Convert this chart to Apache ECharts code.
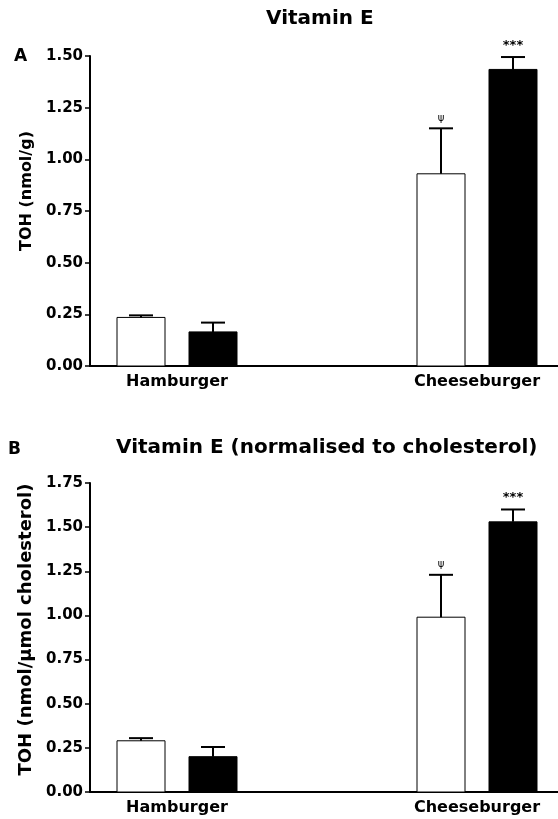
<!DOCTYPE html>
<html>
<head>
<meta charset="utf-8">
<script src="https://cdn.jsdelivr.net/npm/echarts@6/dist/echarts.min.js"></script>
<style>html,body{margin:0;padding:0;background:#fff;}#c{width:558px;height:819px;}</style>
</head>
<body>
<div id="c"></div>
<script>
// ---- data ----
const categories = ['Hamburger', 'Cheeseburger'];
const yTicksA = [0, 0.25, 0.5, 0.75, 1.0, 1.25, 1.5];
const yTicksB = [0, 0.25, 0.5, 0.75, 1.0, 1.25, 1.5, 1.75];
// panel A: TOH (nmol/g)
const whiteA = [0.235, 0.93];
const whiteErrA = [0.01, 0.22];
const blackA = [0.165, 1.435];
const blackErrA = [0.045, 0.06];
// panel B: TOH (nmol/umol cholesterol)
const whiteB = [0.29, 0.99];
const whiteErrB = [0.015, 0.24];
const blackB = [0.20, 1.53];
const blackErrB = [0.055, 0.07];
// significance marks
const marksWhite = ['', 'ψ'];
const marksBlack = ['', '***'];

const FONT = 'DejaVu Sans';

function rows(vals, errs, grp) {
  return vals.map((v, i) => [i, v, errs[i], grp]);
}

function makeRender(marks) {
  return function (params, api) {
    const cat = api.value(0), val = api.value(1), err = api.value(2), grp = api.value(3);
    const base = api.coord([cat, 0]);
    const top = api.coord([cat, val]);
    const etop = api.coord([cat, val + err]);
    const cx = base[0] + (grp === 0 ? -36 : 36);
    const bw = 48, cap = 12;
    const children = [
      { type: 'rect', shape: { x: cx - bw / 2, y: top[1], width: bw, height: base[1] - top[1] },
        style: { fill: grp === 0 ? '#fff' : '#000', stroke: '#000', lineWidth: 1 } },
      { type: 'line', shape: { x1: cx, y1: top[1], x2: cx, y2: etop[1] }, style: { stroke: '#000', lineWidth: 2 } },
      { type: 'line', shape: { x1: cx - cap, y1: etop[1], x2: cx + cap, y2: etop[1] }, style: { stroke: '#000', lineWidth: 2 } }
    ];
    const m = marks[cat];
    if (m) {
      children.push({ type: 'text', x: cx, y: etop[1] - 5,
        style: { text: m, fontFamily: FONT, fontSize: m === 'ψ' ? 10 : 13, fontWeight: m === 'ψ' ? 'normal' : 'bold',
          fill: '#000', align: 'center', verticalAlign: 'bottom' } });
    }
    return { type: 'group', children: children };
  };
}

function xAxisDef(gi) {
  return {
    type: 'value', gridIndex: gi, min: -0.29, max: 1.27,
    axisLine: { show: true, onZero: false, lineStyle: { color: '#000', width: 2 } },
    axisTick: { show: false },
    splitLine: { show: false },
    axisLabel: { customValues: categories.map((c, i) => i), formatter: v => categories[Math.round(v)] || '',
      fontFamily: FONT, fontWeight: 'bold', fontSize: 16, color: '#000', margin: 8 }
  };
}

function yAxisDef(gi, ticks, name, nameSize, pad) {
  return {
    type: 'value', gridIndex: gi, min: ticks[0], max: ticks[ticks.length - 1], interval: ticks[1] - ticks[0],
    name: name, nameLocation: 'middle', nameGap: 54,
    nameTextStyle: { fontFamily: FONT, fontWeight: 'bold', fontSize: nameSize, color: '#000', padding: pad },
    axisLine: { show: true, onZero: false, lineStyle: { color: '#000', width: 2 } },
    axisTick: { show: true, length: 5, lineStyle: { color: '#000', width: 1.5 } },
    splitLine: { show: false },
    axisLabel: { formatter: v => v.toFixed(2), fontFamily: FONT, fontWeight: 'bold', fontSize: 15, color: '#000', margin: 7 }
  };
}

const chart = echarts.init(document.getElementById('c'), null, { renderer: 'canvas' });
chart.setOption({
  backgroundColor: '#fff',
  animation: false,
  title: [
    { text: 'Vitamin E', left: 266, top: 8, padding: 0,
      textStyle: { fontFamily: FONT, fontWeight: 'bold', fontSize: 20, lineHeight: 22, color: '#000' } },
    { text: 'A', left: 14, top: 48, padding: 0,
      textStyle: { fontFamily: FONT, fontWeight: 'bold', fontSize: 17, lineHeight: 18, color: '#000' } },
    { text: 'Vitamin E (normalised to cholesterol)', left: 116, top: 437, padding: 0,
      textStyle: { fontFamily: FONT, fontWeight: 'bold', fontSize: 20, lineHeight: 22, color: '#000' } },
    { text: 'B', left: 8, top: 441, padding: 0,
      textStyle: { fontFamily: FONT, fontWeight: 'bold', fontSize: 17, lineHeight: 18, color: '#000' } }
  ],
  grid: [
    { left: 90, right: 0, top: 56, height: 310 },
    { left: 90, right: 0, top: 483, height: 309 }
  ],
  xAxis: [xAxisDef(0), xAxisDef(1)],
  yAxis: [
    yAxisDef(0, yTicksA, 'TOH (nmol/g)', 16, [0, 0, 0, 40]),
    yAxisDef(1, yTicksB, 'TOH (nmol/μmol cholesterol)', 18, [0, 0, 0, 16])
  ],
  series: [
    { type: 'custom', xAxisIndex: 0, yAxisIndex: 0, renderItem: makeRender(marksWhite), data: rows(whiteA, whiteErrA, 0) },
    { type: 'custom', xAxisIndex: 0, yAxisIndex: 0, renderItem: makeRender(marksBlack), data: rows(blackA, blackErrA, 1) },
    { type: 'custom', xAxisIndex: 1, yAxisIndex: 1, renderItem: makeRender(marksWhite), data: rows(whiteB, whiteErrB, 0) },
    { type: 'custom', xAxisIndex: 1, yAxisIndex: 1, renderItem: makeRender(marksBlack), data: rows(blackB, blackErrB, 1) }
  ]
});
</script>
</body>
</html>
